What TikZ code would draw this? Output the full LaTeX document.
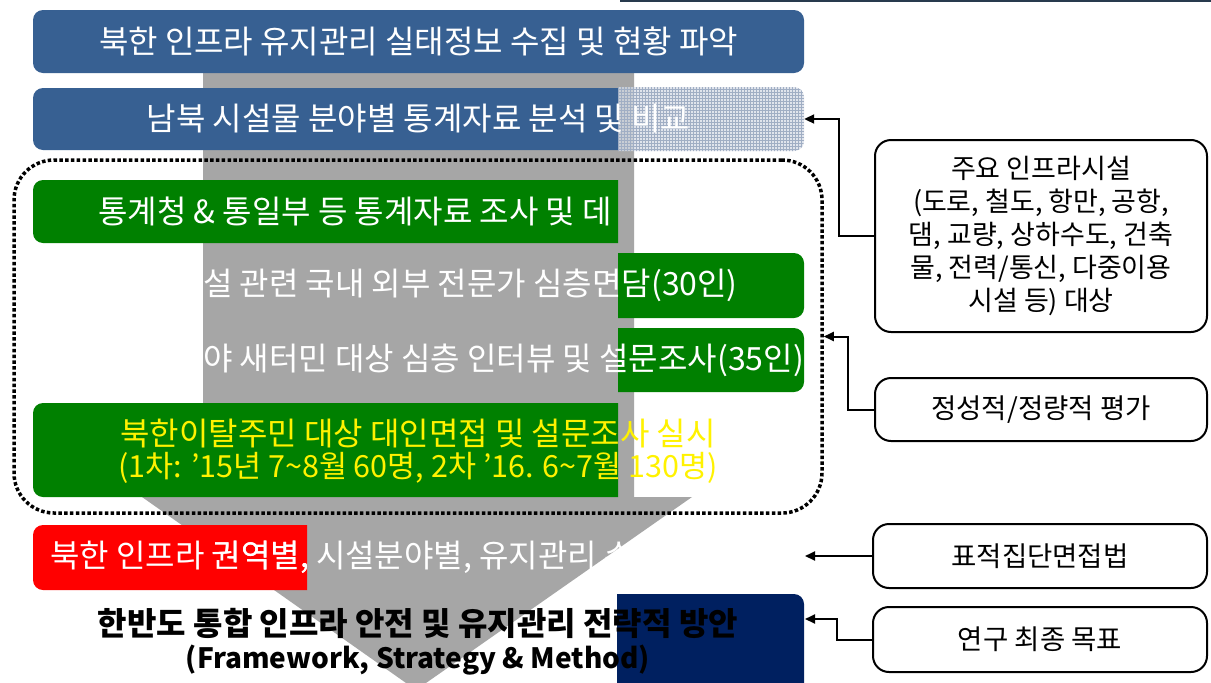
\documentclass[tikz,border=0pt]{standalone}
\usepackage{fontspec}
\setmainfont{Noto Sans CJK KR}
\usetikzlibrary{arrows.meta,patterns}
\definecolor{bluebox}{RGB}{55,96,146}
\definecolor{greenbox}{RGB}{0,128,0}
\definecolor{arrowgray}{RGB}{166,166,166}
\definecolor{navybox}{RGB}{0,32,96}
\definecolor{hatchbg}{RGB}{214,220,230}
\definecolor{hatchln}{RGB}{160,174,196}
\definecolor{topline}{RGB}{40,58,78}
\tikzset{
  maintext/.style={font=\fontsize{32}{35}\selectfont, inner sep=0pt},
  sidebox/.style={draw=black, line width=2pt, rounded corners=16pt, fill=white,
    font=\fontsize{27.5}{33}\selectfont, align=center, inner sep=0pt},
  conn/.style={draw=black, line width=2pt, -{Triangle[length=10pt,width=9pt]}},
  frameline/.style={draw=black, line width=3.5pt, dash pattern=on 3.5pt off 2.3pt,
    rounded corners=40pt, inner sep=0pt}
}
\begin{document}
\begin{tikzpicture}[x=1pt,y=-1pt]
\useasboundingbox (0,0) rectangle (1211,683);
\fill[white] (0,0) rectangle (1211,683);
% fragment of a line at the top
\draw[topline, line width=2pt] (620,1) -- (1211,1);
% big gray arrow
\fill[arrowgray] (203,40) -- (634,40) -- (634,497) -- (692,497) -- (416,690)
  -- (142,497) -- (203,497) -- cycle;
% box 1
\node[maintext, fill=bluebox, rounded corners=10pt, minimum width=771pt,
  minimum height=63pt, text=white] (b1) at (418.5,41.5)
  {북한 인프라 유지관리 실태정보 수집 및 현황 파악};
% box 2
\begin{scope}
  \clip (0,0) rectangle (618,683);
  \fill[bluebox, rounded corners=10pt] (33,88) rectangle (804,150);
\end{scope}
\begin{scope}
  \clip (618,0) rectangle (820,683);
  \fill[hatchbg, fill opacity=0.75, rounded corners=10pt] (33,87) rectangle (804,151);
  \clip[rounded corners=10pt] (33,87) rectangle (804,151);
  \fill[pattern=grid, pattern color=hatchln] (618,87) rectangle (804,151);
\end{scope}
\node[maintext, minimum width=771pt, minimum height=62pt, text=white] (b2)
  at (418.5,119) {남북 시설물 분야별 통계자료 분석 및 비교};
% green A
\begin{scope}
  \clip (0,0) rectangle (618,683);
  \fill[greenbox, rounded corners=10pt] (33,180) rectangle (804,243);
\end{scope}
\node[maintext, anchor=west, text=white] (ga) at (98,211.5)
  {통계청 \& 통일부 등 통계자료 조사 및 데};
% green B
\begin{scope}
  \clip (618,0) rectangle (820,683);
  \fill[greenbox, rounded corners=10pt] (33,253) rectangle (804,318);
\end{scope}
\node[maintext, anchor=west, text=white] (gb) at (203,285.5)
  {설 관련 국내 외부 전문가 심층면담(30인)};
% green C
\begin{scope}
  \clip (618,0) rectangle (820,683);
  \fill[greenbox, rounded corners=10pt] (33,328) rectangle (804,392);
\end{scope}
\node[maintext, anchor=west, text=white] (gc) at (203,360)
  {야 새터민 대상 심층 인터뷰 및 설문조사(35인)};
% green D
\begin{scope}
  \clip (0,0) rectangle (618,683);
  \fill[greenbox, rounded corners=10pt] (33,403) rectangle (804,497);
\end{scope}
\node[inner sep=0pt, align=center, text=yellow, font=\fontsize{32}{32}\selectfont] (gd) at (418,451)
  {북한이탈주민 대상 대인면접 및 설문조사 실시\\{\fontsize{30.5}{32}\selectfont(1차: '15년 7\textasciitilde8월 60명, 2차 '16. 6\textasciitilde7월 130명)}};
% dotted frame
\node[frameline, minimum width=808pt, minimum height=353pt] (frame) at (418,336.5) {};
% red box
\begin{scope}
  \clip (0,0) rectangle (307,683);
  \fill[red, rounded corners=10pt] (33,525) rectangle (804,590);
  \node[maintext, anchor=west, text=white] (rd) at (50,557)
    {북한 인프라 권역별, 시설분야별, 유지관리 수};
\end{scope}
\begin{scope}
  \clip (142,497) -- (692,497) -- (416,690) -- cycle;
  \node[maintext, anchor=west, text=white] at (50,557)
    {북한 인프라 권역별, 시설분야별, 유지관리 수};
\end{scope}
\coordinate (rdend) at (805,556);
% navy box
\begin{scope}
  \clip (617,0) rectangle (820,683);
  \fill[navybox, rounded corners=10pt] (33,594) rectangle (804,720);
\end{scope}
\node[inner sep=0pt, align=center, font=\bfseries\fontsize{32}{33}\selectfont] (goal) at (418,641.5)
  {한반도 통합 인프라 안전 및 유지관리 전략적 방안\\{\fontsize{28}{33}\selectfont(Framework, Strategy \& Method)}};
\coordinate (goalend) at (805,619);
% right boxes
\node[sidebox, minimum width=332pt, minimum height=192pt, font=\fontsize{27}{33}\selectfont] (r1) at (1041,236)
  {주요 인프라시설\\(도로, 철도, 항만, 공항,\\댐, 교량, 상하수도, 건축\\물, 전력/통신, 다중이용\\시설 등) 대상};
\node[sidebox, minimum width=332pt, minimum height=63pt] (r2) at (1041,409.5) {정성적/정량적 평가};
\node[sidebox, minimum width=334pt, minimum height=64pt] (r3) at (1040,556) {표적집단면접법};
\node[sidebox, minimum width=334pt, minimum height=65pt] (r4) at (1040,639.5) {연구 최종 목표};
% connectors
\draw[conn] (r1.west) -- ++(-35,0) |- (b2.east);
\draw[conn] (r2.west) -- ++(-26,0) |- (frame.east);
\draw[conn] (r3.west) -- (rdend);
\draw[conn] (r4.west) -- ++(-35,0) |- (goalend);
\end{tikzpicture}
\end{document}
